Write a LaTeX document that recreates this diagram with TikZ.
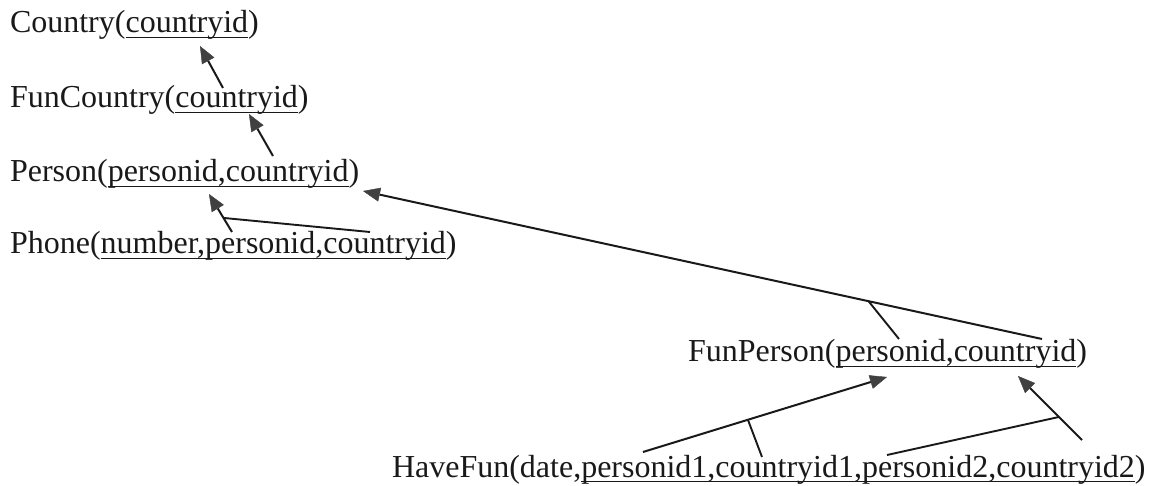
\documentclass[tikz,border=0pt]{standalone}
\usepackage{fontspec}
\setmainfont{Liberation Serif}
\usetikzlibrary{arrows.meta}
\newcommand\myul[1]{\setbox0\hbox{#1}\rlap{\rule[-5pt]{\wd0}{1.4pt}}\box0}
\begin{document}
\begin{tikzpicture}[x=1pt,y=-1pt,
  lbl/.style={anchor=base west,inner sep=0pt,outer sep=0pt,font=\fontsize{32}{38}\selectfont,text=black!90},
  fk/.style={draw=black!90,line width=2pt,-{Triangle[length=17pt,width=14pt,line width=0.4pt,color=black!75]}},
  ln/.style={draw=black!90,line width=1.9pt}]
\useasboundingbox (0,0) rectangle (1149,486);

\node[lbl] (country) at (10,33) {Country(\myul{countryid})};
\node[lbl] (funcountry) at (10,108) {FunCountry(\myul{countryid})};
\node[lbl] (person) at (10,182) {Person(\myul{personid,countryid})};
\node[lbl] (phone) at (10,254) {Phone(\myul{number,personid,countryid})};
\node[lbl] (funperson) at (688,362) {FunPerson(\myul{personid,countryid})};
\node[lbl] (havefun) at (392,477) {HaveFun(date,\myul{personid1,countryid1,personid2,countryid2})};

% endpoints
\coordinate (a1s) at (223,88);   \coordinate (a1e) at (200,46);
\coordinate (a2s) at (273,156);  \coordinate (a2e) at (249,114);
\coordinate (a3s) at (232,232);  \coordinate (a3e) at (209,194);
\coordinate (a3o) at (370,232);
\coordinate (a4s) at (1042,339); \coordinate (a4e) at (363,191);
\coordinate (a4o) at (899,339);
\coordinate (a5s) at (643,452);  \coordinate (a5e) at (887,377);
\coordinate (a5o) at (762,457);
\coordinate (a6s) at (1082,440); \coordinate (a6e) at (1018,376);
\coordinate (a6o) at (887,455);

\path (a3s) -- (a3e) coordinate[pos=0.37] (j3);
\path (a4s) -- (a4e) coordinate[pos=0.2555] (j4);
\path (a5s) -- (a5e) coordinate[pos=0.43] (j5);
\path (a6s) -- (a6e) coordinate[pos=0.36] (j6);

\draw[fk] (a1s) -- (a1e);
\draw[fk] (a2s) -- (a2e);
\draw[fk] (a3s) -- (a3e);
\draw[ln] (a3o) -- (j3);
\draw[fk] (a4s) -- (a4e);
\draw[ln] (a4o) -- (j4);
\draw[fk] (a5s) -- (a5e);
\draw[ln] (a5o) -- (j5);
\draw[fk] (a6s) -- (a6e);
\draw[ln] (a6o) -- (j6);
\end{tikzpicture}
\end{document}
